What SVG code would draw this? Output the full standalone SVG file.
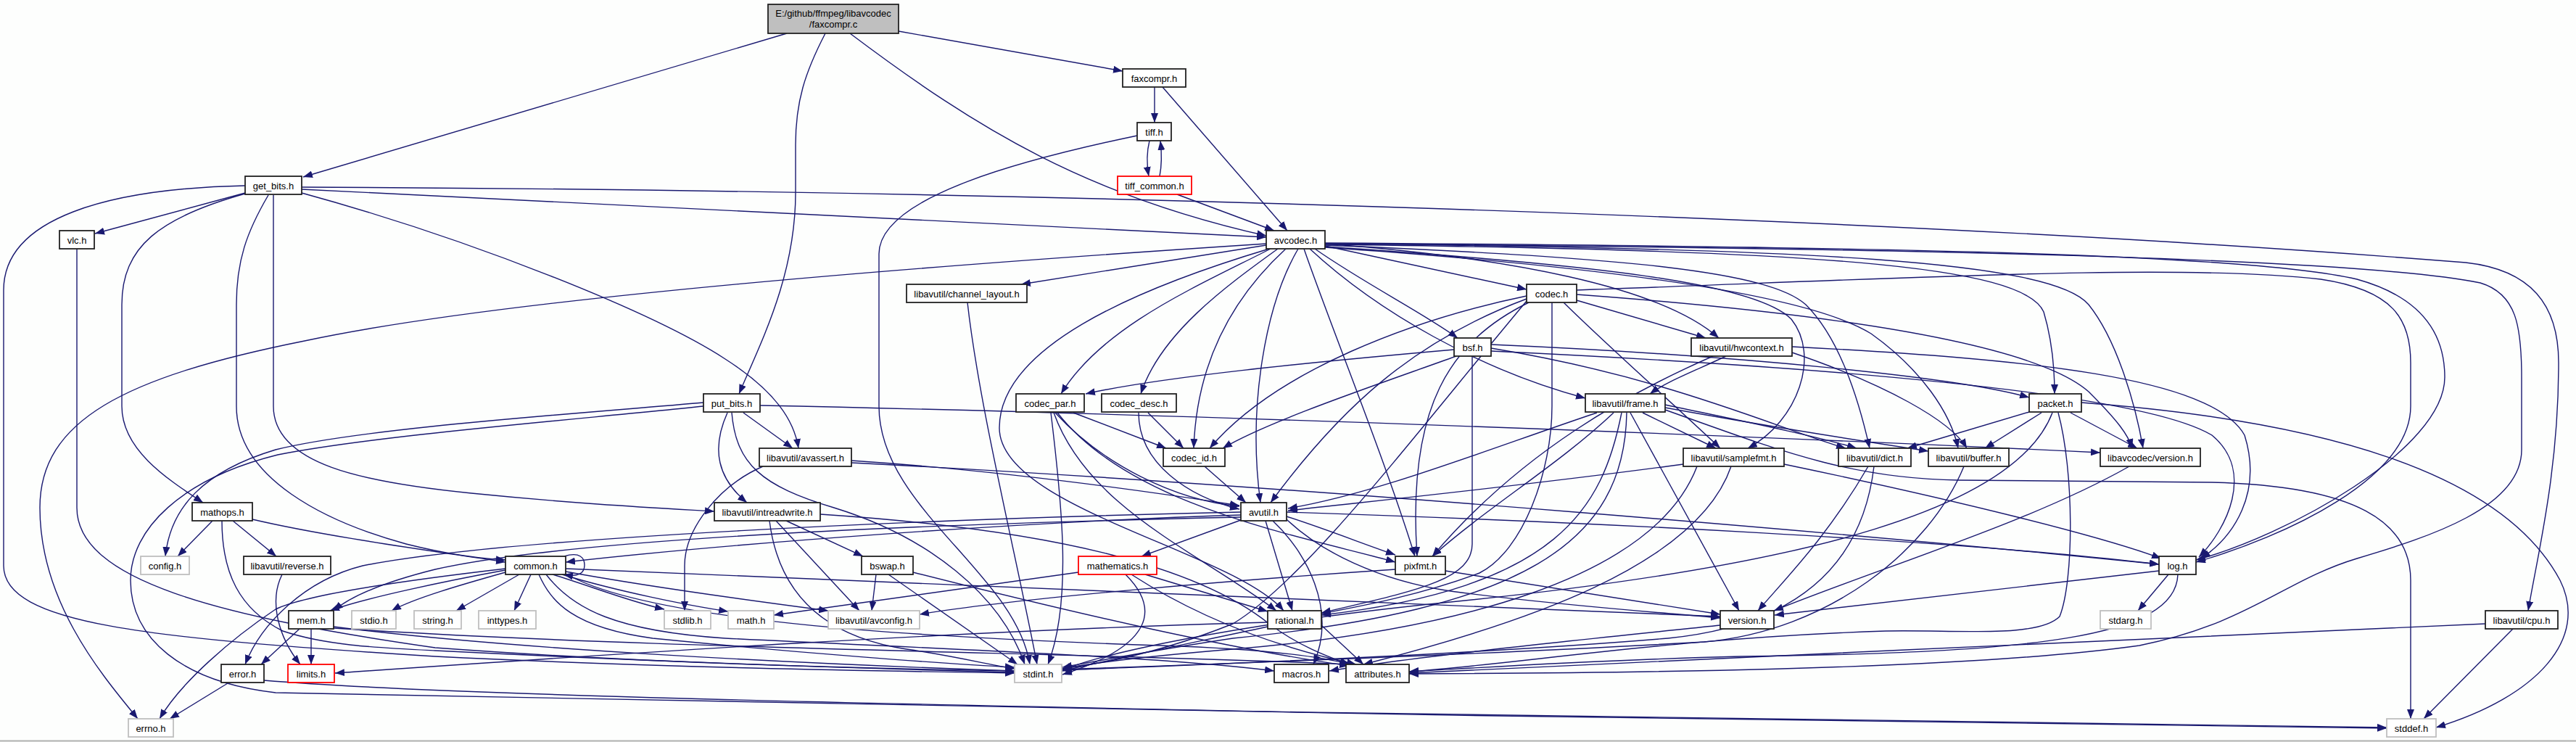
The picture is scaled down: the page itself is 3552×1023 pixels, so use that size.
<svg xmlns="http://www.w3.org/2000/svg" width="3552" height="1023" viewBox="0 0 3552 1023">
<defs>
<marker id="a" markerUnits="userSpaceOnUse" markerWidth="14" markerHeight="10" refX="13" refY="5" orient="auto"><path d="M0,0 L13,5 L0,10 z" fill="#191970"/></marker>
<style>
.e path{fill:none;stroke:#191970;stroke-width:1.4;marker-end:url(#a)}
.n rect{fill:#ffffff;stroke:#222222;stroke-width:1.8}
.g rect{fill:#ffffff;stroke:#bfbfbf;stroke-width:1.8}
.r rect{fill:#ffffff;stroke:#ff0000;stroke-width:1.8}
text{font-family:"Liberation Sans",Arial,sans-serif;font-size:13px;fill:#000;text-anchor:middle}
</style>
</defs>
<rect x="0" y="0" width="3552" height="1023" fill="#fdfefd"/>
<line x1="0" y1="1021.5" x2="3552" y2="1021.5" stroke="#b0b0b0" stroke-width="2"/>
<g id="edges" class="e">
<path d="M1085,46 L418,244"/>
<path d="M1138,46 C1110,100 1097,140 1097,200 L1097,265 C1097,380 1050,470 1019,543"/>
<path d="M1172,46 C1350,180 1500,270 1746,325"/>
<path d="M1239,43 L1548,98"/>
<path d="M1592,120 L1592,169"/>
<path d="M1603,120 L1775,318"/>
<path d="M1585,194 C1581,210 1581,226 1584,243"/>
<path d="M1599,243 C1602,228 1602,212 1600,194"/>
<path d="M1568,187 C1420,218 1212,270 1212,350 L1212,560 C1212,700 1400,790 1420,916"/>
<path d="M1623,268 L1757,318"/>
<path d="M338,266 L131,322"/>
<path d="M416,261 L1746,327"/>
<path d="M416,258 C1400,262 2600,298 3400,362 C3490,372 3528,420 3528,500 C3528,650 3500,760 3486,842"/>
<path d="M416,266 C650,330 900,430 1000,495 C1070,540 1095,580 1101,618"/>
<path d="M377,269 L377,560 C377,640 500,665 650,680 C800,695 900,700 985,705"/>
<path d="M370,269 C340,320 326,360 326,420 L326,560 C326,660 450,720 560,750 C620,765 660,770 697,772"/>
<path d="M338,267 C220,300 168,340 168,420 L168,560 C168,620 230,660 280,693"/>
<path d="M338,256 C150,260 5,300 5,400 L5,780 C5,860 200,880 600,905 C900,920 1200,925 1399,928"/>
<path d="M106,343 L106,700 C106,800 300,850 600,893 C900,915 1200,922 1399,925"/>
<path d="M1334,417 C1350,560 1400,760 1430,916"/>
<path d="M1746,336 C1300,365 700,410 420,470 C170,520 55,580 55,700 C55,830 140,930 190,991"/>
<path d="M1746,338 L1408,392"/>
<path d="M1750,343 C1560,400 1378,480 1378,590 C1378,700 1700,760 1770,842"/>
<path d="M1752,343 C1650,395 1520,450 1463,543"/>
<path d="M1762,343 C1690,395 1600,460 1573,543"/>
<path d="M1773,343 C1700,410 1650,500 1646,618"/>
<path d="M1790,343 C1745,420 1720,560 1738,693"/>
<path d="M1798,343 C1835,450 1905,620 1951,767"/>
<path d="M1806,343 C1900,430 2040,510 2186,549"/>
<path d="M1813,343 C1880,390 1960,430 2010,466"/>
<path d="M1827,339 L2105,399"/>
<path d="M1827,336 C2080,355 2290,395 2370,466"/>
<path d="M1827,340 C2200,365 2420,390 2470,440 C2510,490 2480,580 2410,618"/>
<path d="M1827,338 C2250,355 2440,375 2490,420 C2540,470 2565,560 2578,618"/>
<path d="M1827,341 C2250,370 2500,410 2580,460 C2650,510 2690,570 2700,618"/>
<path d="M1827,337 C2500,345 2790,365 2818,430 C2830,470 2833,510 2833,543"/>
<path d="M1827,336 C2500,342 2830,360 2880,420 C2920,470 2945,560 2955,618"/>
<path d="M1827,335 C2600,340 3100,350 3250,385 C3340,410 3371,460 3371,520 C3371,620 3150,740 3028,772"/>
<path d="M1827,336 C2600,342 3250,355 3420,390 C3470,405 3477,450 3477,520 L3477,620 C3477,700 3350,740 3250,770 C3150,800 3100,860 2950,890 C2700,925 2200,928 1943,929"/>
<path d="M2174,400 C2600,385 3000,362 3200,385 C3300,400 3324,440 3324,500 L3324,560 C3324,660 3150,740 3028,775"/>
<path d="M2174,414 L2352,466"/>
<path d="M2105,412 C1950,470 1850,560 1752,693"/>
<path d="M2105,408 C1950,440 1760,510 1668,618"/>
<path d="M2108,417 C2000,470 1940,560 1954,767"/>
<path d="M2140,417 L2140,560 C2140,650 2100,760 2040,790 C1960,820 1880,835 1822,846"/>
<path d="M2156,417 C2220,480 2300,550 2372,618"/>
<path d="M2174,406 C2500,430 2800,470 2880,540 C2920,580 2935,600 2940,618"/>
<path d="M2105,415 C1950,600 1800,800 1700,860 C1600,900 1520,915 1465,922"/>
<path d="M2005,482 C1800,500 1600,520 1497,543"/>
<path d="M2008,491 C1900,530 1750,580 1686,618"/>
<path d="M2056,475 C2400,490 2700,520 2798,548"/>
<path d="M2056,480 C2300,520 2450,590 2545,618"/>
<path d="M2056,484 C2500,505 2950,540 3050,600 C3110,650 3070,730 3032,768"/>
<path d="M2030,491 L2030,750 C2030,800 1950,815 1822,845"/>
<path d="M2380,491 C2340,510 2300,525 2275,543"/>
<path d="M2362,491 C2250,540 2100,620 1975,767"/>
<path d="M2471,486 C2600,530 2690,580 2712,618"/>
<path d="M2471,478 C2800,495 3050,520 3095,600 C3120,680 3080,740 3035,770"/>
<path d="M970,555 C800,570 500,590 380,620 C280,650 235,700 228,767"/>
<path d="M970,560 C800,578 520,600 383,627 C250,660 180,730 180,800 C180,880 250,940 380,955 C900,970 2500,995 3291,1004"/>
<path d="M1003,569 C980,620 990,660 1030,693"/>
<path d="M1025,569 L1093,618"/>
<path d="M1009,569 C1015,640 1050,670 1150,700 C1280,740 1380,820 1413,916"/>
<path d="M1048,559 C1600,570 2400,600 2896,624"/>
<path d="M1449,569 C1465,700 1478,830 1445,916"/>
<path d="M1455,569 C1520,640 1620,690 1709,698"/>
<path d="M1480,569 L1608,618"/>
<path d="M1453,569 C1500,700 1650,760 1760,842"/>
<path d="M1458,569 C1560,700 1800,740 1924,775"/>
<path d="M1583,569 L1632,618"/>
<path d="M1570,569 C1570,640 1640,685 1709,702"/>
<path d="M2202,569 C2050,620 1900,680 1776,701"/>
<path d="M2225,569 C2150,640 2050,700 1975,767"/>
<path d="M2236,569 C2210,700 2150,810 1822,848"/>
<path d="M2243,569 C2240,750 2100,840 1700,880 C1600,895 1520,910 1465,920"/>
<path d="M2248,569 L2398,842"/>
<path d="M2265,569 L2366,618"/>
<path d="M2296,558 C2400,580 2500,600 2560,618"/>
<path d="M2296,562 C2450,590 2580,610 2659,622"/>
<path d="M2296,565 C2450,620 2550,660 2700,662 L3050,665 C3250,670 3324,720 3324,800 L3324,991"/>
<path d="M2798,568 L2630,618"/>
<path d="M2815,569 L2737,618"/>
<path d="M2855,569 L2947,618"/>
<path d="M2830,569 C2780,700 2500,780 2000,830 C1700,860 1500,905 1465,925"/>
<path d="M2838,569 C2860,650 2860,800 2840,850 C2810,880 2700,868 2600,870 C2300,880 2100,915 1943,926"/>
<path d="M2870,555 C3200,580 3450,650 3530,800 C3570,880 3500,960 3359,1003"/>
<path d="M1052,643 C990,670 944,730 944,780 L944,842"/>
<path d="M1174,635 C1400,650 1600,680 1709,697"/>
<path d="M1174,638 C1800,670 2600,740 2977,778"/>
<path d="M1661,643 L1718,693"/>
<path d="M2321,640 C2100,670 1900,690 1776,704"/>
<path d="M2387,643 C2340,780 2100,860 1880,916"/>
<path d="M2460,640 C2700,690 2900,740 2980,770"/>
<path d="M2340,643 C2280,800 2000,870 1700,895 C1580,905 1500,915 1465,922"/>
<path d="M2584,643 C2570,760 2500,860 2300,880 C2000,905 1600,918 1465,924"/>
<path d="M2576,643 C2520,740 2460,800 2424,842"/>
<path d="M2708,643 C2660,760 2520,870 2350,885 C2000,905 1600,918 1465,923"/>
<path d="M2936,643 C2800,720 2600,780 2446,842"/>
<path d="M293,718 L245,767"/>
<path d="M321,718 L381,767"/>
<path d="M306,718 C306,790 330,840 390,870 C450,890 520,893 600,897 C900,912 1200,922 1399,927"/>
<path d="M348,716 C450,740 600,760 697,775"/>
<path d="M389,792 C370,830 385,880 414,916"/>
<path d="M1061,718 C1075,830 1150,880 1250,895 C1320,905 1370,918 1399,922"/>
<path d="M1070,718 L1185,842"/>
<path d="M1084,718 L1190,767"/>
<path d="M1131,709 C1450,730 1650,780 1750,860 C1790,890 1830,905 1860,916"/>
<path d="M1711,717 L1574,767"/>
<path d="M1745,718 L1782,842"/>
<path d="M1755,718 C1800,760 1845,840 1811,916"/>
<path d="M1711,706 C1300,715 700,740 500,780 C420,800 360,860 338,916"/>
<path d="M1711,710 C1400,720 1000,750 780,775"/>
<path d="M1774,716 C1820,760 1900,800 2000,815 C2150,835 2300,845 2372,852"/>
<path d="M1774,706 C2200,720 2700,745 2977,778"/>
<path d="M1774,712 C1830,730 1880,750 1924,765"/>
<path d="M1711,713 C1300,722 800,740 600,785 C520,805 480,825 460,842"/>
<path d="M778,767 C800,760 806,770 806,779 C806,790 798,796 777,792"/>
<path d="M716,792 L629,842"/>
<path d="M732,792 L709,842"/>
<path d="M697,789 C640,805 570,825 540,842"/>
<path d="M697,786 C620,800 500,825 455,842"/>
<path d="M762,792 C820,810 870,830 916,840"/>
<path d="M775,792 C850,815 950,835 1004,843"/>
<path d="M780,788 C900,810 1050,830 1142,842"/>
<path d="M780,784 C1200,800 1800,827 2372,850"/>
<path d="M697,784 C560,800 420,820 380,840 C320,880 250,940 220,991"/>
<path d="M743,792 C760,830 790,865 900,880 C1100,900 1300,915 1399,920"/>
<path d="M753,792 C790,840 850,870 1000,880 C1300,895 1600,905 1757,925"/>
<path d="M780,791 C900,860 1300,880 1600,890 C1750,895 1820,905 1862,916"/>
<path d="M1208,792 L1202,842"/>
<path d="M1225,792 L1403,916"/>
<path d="M1259,789 C1500,850 1700,895 1860,918"/>
<path d="M1552,792 C1600,840 1590,890 1465,930"/>
<path d="M1579,792 L1748,843"/>
<path d="M1487,789 C1300,815 1150,835 1067,848"/>
<path d="M1560,792 C1650,850 1750,890 1870,916"/>
<path d="M1924,785 C1700,800 1400,825 1268,847"/>
<path d="M1993,787 L2372,847"/>
<path d="M2990,792 L2948,842"/>
<path d="M2977,787 L2447,848"/>
<path d="M3003,792 C3000,880 2800,900 2400,905 C2200,910 2050,920 1943,926"/>
<path d="M413,867 L360,916"/>
<path d="M429,867 L429,916"/>
<path d="M460,864 C700,895 1100,915 1399,925"/>
<path d="M460,866 C900,895 1500,900 1862,916"/>
<path d="M1748,864 C1650,885 1550,905 1465,925"/>
<path d="M1748,858 C1300,870 800,905 462,928"/>
<path d="M1822,862 L1880,916"/>
<path d="M2372,862 C2200,880 1950,905 1833,925"/>
<path d="M3465,867 L3342,991"/>
<path d="M3427,860 C3000,880 2400,905 1943,928"/>
<path d="M314,942 L234,991"/>
<path d="M364,938 C600,958 1200,970 1800,982 C2400,992 3000,1000 3291,1003"/>
</g>
<g id="n_root"><rect x="1059" y="6" width="180" height="40" style="fill:#bfbfbf;stroke:#222;stroke-width:1.8"/><text x="1149" y="22.5">E:/github/ffmpeg/libavcodec</text><text x="1149" y="38">/faxcompr.c</text></g>
<g id="n_faxcompr_h" class="n"><rect x="1548" y="95" width="87" height="25"/><text x="1591.5" y="112.5">faxcompr.h</text></g>
<g id="n_tiff_h" class="n"><rect x="1568" y="169" width="47" height="25"/><text x="1591.5" y="186.5">tiff.h</text></g>
<g id="n_get_bits" class="n"><rect x="338" y="243" width="78" height="25"/><text x="377" y="260.5">get_bits.h</text></g>
<g id="n_tiff_common" class="r"><rect x="1541" y="243" width="102" height="25"/><text x="1592" y="260.5">tiff_common.h</text></g>
<g id="n_vlc" class="n"><rect x="82" y="318" width="48" height="25"/><text x="106" y="335.5">vlc.h</text></g>
<g id="n_avcodec" class="n"><rect x="1746" y="318" width="81" height="25"/><text x="1786.5" y="335.5">avcodec.h</text></g>
<g id="n_channel_layout" class="n"><rect x="1250" y="392" width="166" height="25"/><text x="1333" y="409.5">libavutil/channel_layout.h</text></g>
<g id="n_codec" class="n"><rect x="2105" y="392" width="69" height="25"/><text x="2139.5" y="409.5">codec.h</text></g>
<g id="n_bsf" class="n"><rect x="2005" y="466" width="51" height="25"/><text x="2030.5" y="483.5">bsf.h</text></g>
<g id="n_hwcontext" class="n"><rect x="2332" y="466" width="139" height="25"/><text x="2401.5" y="483.5">libavutil/hwcontext.h</text></g>
<g id="n_put_bits" class="n"><rect x="970" y="543" width="78" height="25"/><text x="1009" y="560.5">put_bits.h</text></g>
<g id="n_codec_par" class="n"><rect x="1401" y="543" width="94" height="25"/><text x="1448" y="560.5">codec_par.h</text></g>
<g id="n_codec_desc" class="n"><rect x="1519" y="543" width="103" height="25"/><text x="1570.5" y="560.5">codec_desc.h</text></g>
<g id="n_frame" class="n"><rect x="2186" y="543" width="110" height="25"/><text x="2241" y="560.5">libavutil/frame.h</text></g>
<g id="n_packet" class="n"><rect x="2798" y="543" width="72" height="25"/><text x="2834" y="560.5">packet.h</text></g>
<g id="n_avassert" class="n"><rect x="1047" y="618" width="127" height="25"/><text x="1110.5" y="635.5">libavutil/avassert.h</text></g>
<g id="n_codec_id" class="n"><rect x="1604" y="618" width="85" height="25"/><text x="1646.5" y="635.5">codec_id.h</text></g>
<g id="n_samplefmt" class="n"><rect x="2321" y="618" width="139" height="25"/><text x="2390.5" y="635.5">libavutil/samplefmt.h</text></g>
<g id="n_dict" class="n"><rect x="2535" y="618" width="100" height="25"/><text x="2585" y="635.5">libavutil/dict.h</text></g>
<g id="n_buffer" class="n"><rect x="2659" y="618" width="111" height="25"/><text x="2714.5" y="635.5">libavutil/buffer.h</text></g>
<g id="n_lavc_version" class="n"><rect x="2896" y="618" width="138" height="25"/><text x="2965" y="635.5">libavcodec/version.h</text></g>
<g id="n_mathops" class="n"><rect x="265" y="693" width="83" height="25"/><text x="306.5" y="710.5">mathops.h</text></g>
<g id="n_intreadwrite" class="n"><rect x="985" y="693" width="146" height="25"/><text x="1058" y="710.5">libavutil/intreadwrite.h</text></g>
<g id="n_avutil" class="n"><rect x="1711" y="693" width="63" height="25"/><text x="1742.5" y="710.5">avutil.h</text></g>
<g id="n_config" class="g"><rect x="194" y="767" width="67" height="25"/><text x="227.5" y="784.5">config.h</text></g>
<g id="n_reverse" class="n"><rect x="336" y="767" width="120" height="25"/><text x="396" y="784.5">libavutil/reverse.h</text></g>
<g id="n_common" class="n"><rect x="697" y="767" width="83" height="25"/><text x="738.5" y="784.5">common.h</text></g>
<g id="n_bswap" class="n"><rect x="1188" y="767" width="71" height="25"/><text x="1223.5" y="784.5">bswap.h</text></g>
<g id="n_mathematics" class="r"><rect x="1487" y="767" width="108" height="25"/><text x="1541" y="784.5">mathematics.h</text></g>
<g id="n_pixfmt" class="n"><rect x="1924" y="767" width="69" height="25"/><text x="1958.5" y="784.5">pixfmt.h</text></g>
<g id="n_log" class="n"><rect x="2977" y="767" width="51" height="25"/><text x="3002.5" y="784.5">log.h</text></g>
<g id="n_mem" class="n"><rect x="398" y="842" width="62" height="25"/><text x="429" y="859.5">mem.h</text></g>
<g id="n_stdio" class="g"><rect x="485" y="842" width="61" height="25"/><text x="515.5" y="859.5">stdio.h</text></g>
<g id="n_string" class="g"><rect x="571" y="842" width="65" height="25"/><text x="603.5" y="859.5">string.h</text></g>
<g id="n_inttypes" class="g"><rect x="660" y="842" width="79" height="25"/><text x="699.5" y="859.5">inttypes.h</text></g>
<g id="n_stdlib" class="g"><rect x="916" y="842" width="64" height="25"/><text x="948" y="859.5">stdlib.h</text></g>
<g id="n_math" class="g"><rect x="1004" y="842" width="63" height="25"/><text x="1035.5" y="859.5">math.h</text></g>
<g id="n_avconfig" class="g"><rect x="1142" y="842" width="126" height="25"/><text x="1205" y="859.5">libavutil/avconfig.h</text></g>
<g id="n_rational" class="n"><rect x="1748" y="842" width="74" height="25"/><text x="1785" y="859.5">rational.h</text></g>
<g id="n_version" class="n"><rect x="2372" y="842" width="74" height="25"/><text x="2409" y="859.5">version.h</text></g>
<g id="n_stdarg" class="g"><rect x="2896" y="842" width="70" height="25"/><text x="2931" y="859.5">stdarg.h</text></g>
<g id="n_cpu" class="n"><rect x="3427" y="842" width="100" height="25"/><text x="3477" y="859.5">libavutil/cpu.h</text></g>
<g id="n_error" class="n"><rect x="305" y="916" width="59" height="25"/><text x="334.5" y="933.5">error.h</text></g>
<g id="n_limits" class="r"><rect x="397" y="916" width="64" height="25"/><text x="429" y="933.5">limits.h</text></g>
<g id="n_stdint" class="g"><rect x="1399" y="916" width="65" height="25"/><text x="1431.5" y="933.5">stdint.h</text></g>
<g id="n_macros" class="n"><rect x="1757" y="916" width="75" height="25"/><text x="1794.5" y="933.5">macros.h</text></g>
<g id="n_attributes" class="n"><rect x="1856" y="916" width="87" height="25"/><text x="1899.5" y="933.5">attributes.h</text></g>
<g id="n_errno" class="g"><rect x="177" y="991" width="62" height="25"/><text x="208" y="1008.5">errno.h</text></g>
<g id="n_stddef" class="g"><rect x="3291" y="991" width="68" height="25"/><text x="3325" y="1008.5">stddef.h</text></g>
</svg>
